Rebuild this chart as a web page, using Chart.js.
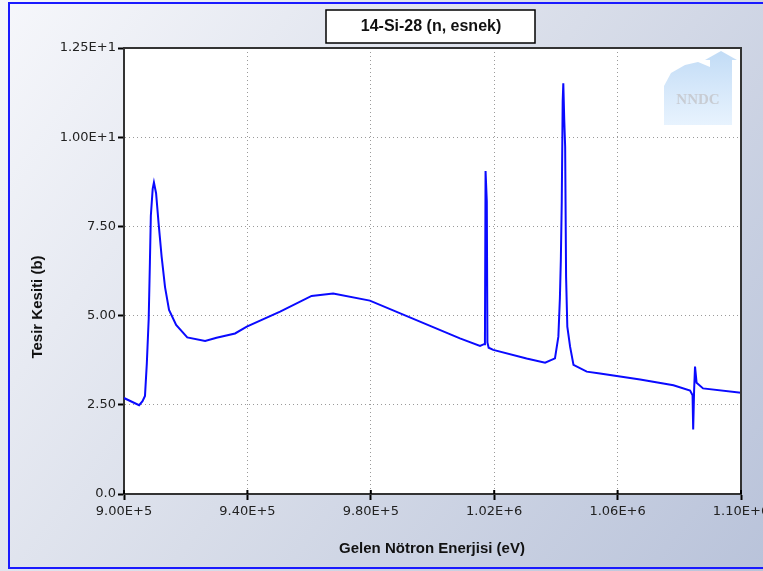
<!DOCTYPE html>
<html>
<head>
<meta charset="utf-8">
<script src="https://cdn.jsdelivr.net/npm/chart.js@4/dist/chart.umd.min.js"></script>
<style>
html,body{margin:0;padding:0;background:#fff;overflow:hidden;}
canvas{display:block;}
</style>
</head>
<body>
<canvas id="c" width="763" height="571"></canvas>
<script>
const chartTitle = '14-Si-28 (n, esnek)';
const xAxisTitle = 'Gelen Nötron Enerjisi (eV)';
const yAxisTitle = 'Tesir Kesiti (b)';

const energy = [
  900000, 904900, 906000, 906800, 907400, 908000, 908400, 908700, 909300, 909700,
  910400, 911200, 912200, 913300, 914600, 916900, 920500, 926300, 930000, 936000,
  939800, 950600, 960800, 967800, 979700, 1008900, 1015400, 1016700, 1017000, 1017200,
  1017600, 1017800, 1018200, 1019700, 1030500, 1036500, 1039700, 1040800, 1041300, 1041600,
  1041900, 1042200, 1042400, 1042700, 1043000, 1043300, 1043700, 1044600, 1045700, 1050000,
  1054300, 1067300, 1078100, 1083500, 1084300, 1084500, 1084800, 1085100, 1085600, 1087700,
  1100000
];
const sigma = [
  2.69, 2.49, 2.60, 2.75, 3.66, 4.90, 6.50, 7.80, 8.55, 8.73,
  8.43, 7.60, 6.65, 5.80, 5.16, 4.74, 4.39, 4.29, 4.38, 4.50,
  4.69, 5.11, 5.55, 5.62, 5.42, 4.36, 4.15, 4.20, 4.30, 9.05,
  8.20, 4.25, 4.10, 4.04, 3.80, 3.68, 3.80, 4.41, 5.50, 6.56,
  8.19, 11.0, 11.51, 10.5, 9.73, 6.09, 4.69, 4.13, 3.62, 3.43,
  3.38, 3.21, 3.05, 2.90, 2.77, 1.81, 2.90, 3.57, 3.12, 2.96,
  2.84
];

const xTickValues = [900000, 940000, 980000, 1020000, 1060000, 1100000];
const xTickLabels = ['9.00E+5', '9.40E+5', '9.80E+5', '1.02E+6', '1.06E+6', '1.10E+6'];
const yTickValues = [0, 2.5, 5, 7.5, 10, 12.5];
const yTickLabels = ['0.0', '2.50', '5.00', '7.50', '1.00E+1', '1.25E+1'];

const points = energy.map((e, i) => ({x: e, y: sigma[i]}));

const decor = {
  id: 'decor',
  beforeDraw(chart) {
    const ctx = chart.ctx, W = chart.width, H = chart.height, a = chart.chartArea;
    ctx.save();
    const g = ctx.createLinearGradient(0, 0, W, H);
    g.addColorStop(0, '#f6f7fb');
    g.addColorStop(0.5, '#d8dde9');
    g.addColorStop(1, '#b9c3da');
    ctx.fillStyle = g;
    ctx.fillRect(0, 0, W, H);
    ctx.strokeStyle = '#1a1aff';
    ctx.lineWidth = 2;
    ctx.strokeRect(9, 3, W + 10, H - 6);
    ctx.fillStyle = '#ffffff';
    ctx.fillRect(a.left, a.top, a.right - a.left, a.bottom - a.top);
    ctx.restore();
  },
  beforeDatasetsDraw(chart) {
    const ctx = chart.ctx;
    ctx.save();
    const g = ctx.createLinearGradient(0, 51, 0, 125);
    g.addColorStop(0, '#c2dcf6');
    g.addColorStop(1, '#e8f3fe');
    ctx.fillStyle = g;
    ctx.beginPath();
    ctx.moveTo(664, 125);
    ctx.lineTo(664, 86);
    ctx.lineTo(671, 73);
    ctx.lineTo(685, 65);
    ctx.lineTo(698, 62);
    ctx.lineTo(710, 67);
    ctx.lineTo(710, 60);
    ctx.lineTo(705, 60);
    ctx.lineTo(721, 51);
    ctx.lineTo(737, 60);
    ctx.lineTo(732, 60);
    ctx.lineTo(732, 125);
    ctx.closePath();
    ctx.fill();
    ctx.fillStyle = '#c8ccd3';
    ctx.font = 'bold 15px "Liberation Serif", serif';
    ctx.textAlign = 'center';
    ctx.textBaseline = 'middle';
    ctx.fillText('NNDC', 698, 100);
    ctx.restore();
  },
  afterDraw(chart) {
    const ctx = chart.ctx, a = chart.chartArea;
    ctx.save();
    ctx.strokeStyle = '#333333';
    ctx.lineWidth = 2;
    ctx.beginPath();
    ctx.moveTo(a.left, a.top);
    ctx.lineTo(a.right, a.top);
    ctx.lineTo(a.right, a.bottom);
    ctx.stroke();
    // small inward part of x tick marks
    const xs = chart.scales.x;
    ctx.strokeStyle = '#000000';
    ctx.beginPath();
    xs.ticks.forEach(t => {
      const px = xs.getPixelForValue(t.value);
      ctx.moveTo(px, a.bottom - 4);
      ctx.lineTo(px, a.bottom);
    });
    ctx.stroke();
    // title box
    ctx.fillStyle = '#ffffff';
    ctx.fillRect(326, 10, 209, 33);
    ctx.strokeStyle = '#000000';
    ctx.lineWidth = 1.5;
    ctx.strokeRect(326, 10, 209, 33);
    ctx.fillStyle = '#111111';
    ctx.font = 'bold 16px "Liberation Sans", Arial, sans-serif';
    ctx.textAlign = 'center';
    ctx.textBaseline = 'middle';
    ctx.fillText(chartTitle, 431, 27);
    // axis titles
    ctx.font = 'bold 15px "Liberation Sans", Arial, sans-serif';
    ctx.fillText(xAxisTitle, 432, 549);
    ctx.translate(38, 307);
    ctx.rotate(-Math.PI / 2);
    ctx.fillText(yAxisTitle, 0, 0);
    ctx.restore();
  }
};

new Chart(document.getElementById('c'), {
  type: 'line',
  data: {
    datasets: [{
      data: points,
      borderColor: '#0a0aff',
      borderWidth: 2,
      pointRadius: 0,
      tension: 0,
      fill: false
    }]
  },
  options: {
    responsive: false,
    animation: false,
    devicePixelRatio: 1,
    layout: {padding: {top: 48, right: 22, left: 0, bottom: 0}},
    plugins: {legend: {display: false}, tooltip: {enabled: false}, title: {display: false}},
    scales: {
      x: {
        type: 'linear',
        min: 900000,
        max: 1100000,
        afterBuildTicks(s) { s.ticks = xTickValues.map(v => ({value: v})); },
        afterFit(s) { s.height = 77; s.paddingLeft = 0; s.paddingRight = 0; },
        ticks: {
          autoSkip: false,
          maxRotation: 0,
          padding: 4,
          color: '#222222',
          font: {family: '"DejaVu Sans", sans-serif', size: 13},
          callback: (v) => xTickLabels[xTickValues.indexOf(v)]
        },
        grid: {
          color: '#9a9a9a',
          lineWidth: 1,
          tickColor: '#000000',
          tickWidth: 2,
          tickLength: 6,
          drawTicks: true
        },
        border: {display: true, color: '#333333', width: 2, dash: [1, 3]}
      },
      y: {
        type: 'linear',
        min: 0,
        max: 12.5,
        afterBuildTicks(s) { s.ticks = yTickValues.map(v => ({value: v})); },
        afterFit(s) { s.width = 124; s.paddingTop = 0; s.paddingBottom = 0; },
        ticks: {
          autoSkip: false,
          padding: 2,
          color: '#222222',
          font: {family: '"DejaVu Sans", sans-serif', size: 13},
          callback: (v) => yTickLabels[yTickValues.indexOf(v)]
        },
        grid: {
          color: '#9a9a9a',
          lineWidth: 1,
          tickColor: '#000000',
          tickWidth: 2,
          tickLength: 6,
          drawTicks: true
        },
        border: {display: true, color: '#333333', width: 2, dash: [1, 3]}
      }
    }
  },
  plugins: [decor]
});
</script>
</body>
</html>
